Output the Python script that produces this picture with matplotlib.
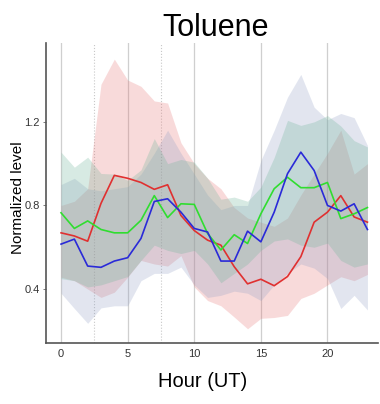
import matplotlib
matplotlib.use("Agg")
import matplotlib.pyplot as plt

plt.rcParams['font.family'] = ['Liberation Sans', 'DejaVu Sans']

hours = list(range(24))

# mean lines
red_mean = [0.669, 0.654, 0.629, 0.81, 0.944, 0.93, 0.91, 0.877, 0.899, 0.752, 0.68, 0.634,
            0.61, 0.507, 0.425, 0.447, 0.416, 0.46, 0.555, 0.72, 0.768, 0.847, 0.745, 0.72]
blue_mean = [0.615, 0.639, 0.51, 0.504, 0.534, 0.55, 0.642, 0.819, 0.832, 0.768, 0.69, 0.673,
             0.534, 0.534, 0.677, 0.626, 0.768, 0.952, 1.055, 0.967, 0.8, 0.773, 0.808, 0.685]
green_mean = [0.765, 0.69, 0.726, 0.685, 0.669, 0.669, 0.729, 0.847, 0.742, 0.808, 0.805, 0.666,
              0.587, 0.66, 0.618, 0.76, 0.88, 0.935, 0.885, 0.885, 0.91, 0.737, 0.76, 0.79]

# spread bands
red_hi = [0.80, 0.82, 0.88, 1.38, 1.50, 1.40, 1.37, 1.30, 1.29, 1.10, 1.00, 0.93,
          0.88, 0.79, 0.74, 0.72, 0.70, 0.74, 0.85, 0.95, 1.05, 1.16, 0.95, 1.00]
red_lo = [0.457, 0.44, 0.40, 0.36, 0.385, 0.457, 0.537, 0.52, 0.51, 0.56, 0.41, 0.345,
          0.32, 0.266, 0.21, 0.26, 0.264, 0.274, 0.355, 0.38, 0.42, 0.459, 0.44, 0.47]
blue_hi = [0.90, 0.93, 0.88, 0.87, 0.88, 0.89, 0.95, 1.05, 1.16, 1.05, 0.95, 0.85,
           0.78, 0.80, 0.80, 1.015, 1.16, 1.318, 1.427, 1.27, 1.21, 1.24, 1.22, 1.087]
blue_lo = [0.38, 0.307, 0.236, 0.31, 0.32, 0.32, 0.44, 0.475, 0.475, 0.505, 0.42, 0.36,
           0.37, 0.39, 0.38, 0.345, 0.42, 0.475, 0.52, 0.50, 0.45, 0.307, 0.37, 0.30]
green_hi = [1.055, 0.983, 1.031, 0.953, 0.95, 0.92, 0.97, 1.12, 1.00, 1.02, 1.007, 0.93,
            0.83, 0.84, 0.82, 0.888, 1.03, 1.207, 1.183, 1.20, 1.23, 1.18, 1.11, 1.08]
green_lo = [0.45, 0.44, 0.41, 0.42, 0.44, 0.46, 0.537, 0.61, 0.585, 0.57, 0.585, 0.52,
            0.43, 0.475, 0.52, 0.585, 0.63, 0.64, 0.61, 0.60, 0.62, 0.537, 0.505, 0.52]

fig = plt.figure(figsize=(3.8, 4.04), dpi=100)
ax = fig.add_axes([0.121, 0.151, 0.874, 0.743])

for x in [0, 5, 10, 15, 20]:
    ax.axvline(x, color='#cfcfcf', lw=0.9, zorder=0)
for x in [2.5, 7.5]:
    ax.axvline(x, color='#c8c8c8', lw=0.8, ls=':', zorder=0)

ax.fill_between(hours, red_lo, red_hi, color='#e66e6e', alpha=0.25, lw=0)
ax.fill_between(hours, blue_lo, blue_hi, color='#8c9bc3', alpha=0.25, lw=0)
ax.fill_between(hours, green_lo, green_hi, color='#6cb498', alpha=0.27, lw=0)

ax.plot(hours, red_mean, color='#e03030', lw=1.2)
ax.plot(hours, green_mean, color='#30dd30', lw=1.2)
ax.plot(hours, blue_mean, color='#2a2ad8', lw=1.2)

ax.set_xlim(-1.13, 23.8)
ax.set_ylim(0.142, 1.578)
ax.set_xticks([0, 5, 10, 15, 20])
ax.set_yticks([0.4, 0.8, 1.2])
ax.set_yticklabels(['0.4', '0.8', '1.2'])
ax.tick_params(axis='both', labelsize=8, labelcolor='#333333', color='#666666',
               length=2.5, width=0.6, pad=2)
ax.tick_params(axis='x', length=0, pad=4)
for s in ['top', 'right']:
    ax.spines[s].set_visible(False)
for s in ['left', 'bottom']:
    ax.spines[s].set_color('#555555')
    ax.spines[s].set_linewidth(1.2)

ax.set_title('Toluene', fontsize=22, x=0.512, pad=5)
ax.set_xlabel('Hour (UT)', fontsize=14.5)
ax.xaxis.set_label_coords(0.473, -0.095)
ax.set_ylabel('Normalized level', fontsize=11)
ax.yaxis.set_label_coords(-0.062, 0.485)

fig.savefig('out.png', dpi=100)
